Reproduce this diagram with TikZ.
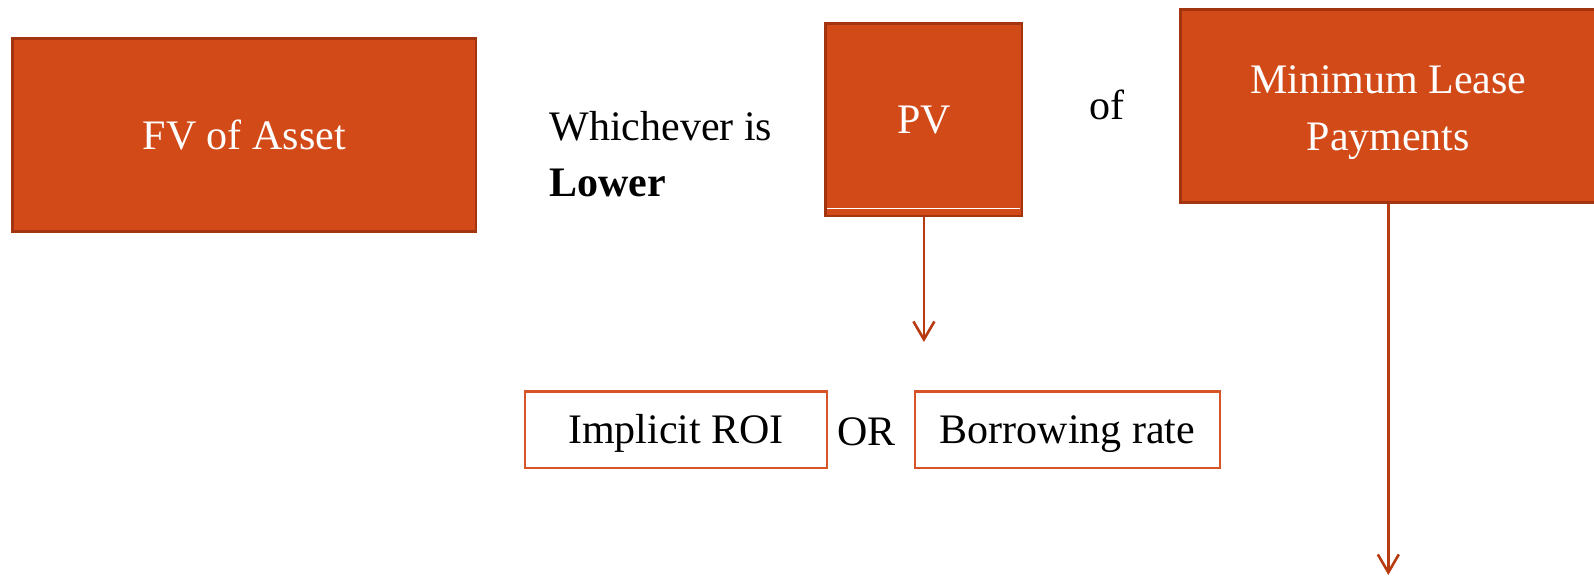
\documentclass[tikz,border=0pt]{standalone}
\usepackage{fontspec}
\setmainfont{Liberation Serif}
\usetikzlibrary{arrows.meta,calc}
\definecolor{boxfill}{RGB}{210,74,24}
\definecolor{boxline}{RGB}{163,52,16}
\definecolor{arrowc}{RGB}{184,58,16}
\definecolor{outlinec}{RGB}{214,84,40}
\begin{document}
\begin{tikzpicture}[x=0.5pt,y=-0.5pt,
  txt/.style={font=\fontsize{21}{28.5}\selectfont, inner sep=0pt},
  solidbox/.style={txt, draw=boxline, line width=1.3pt, fill=boxfill, text=white, align=center},
  whitetxt/.style={txt, text=white, align=center},
  openbox/.style={txt, draw=outlinec, line width=1.3pt, fill=white, text=black, align=center, text height=15.7pt, text depth=2pt},
  arr/.style={draw=arrowc, line width=1.3pt, -{Straight Barb[length=9pt,width=10.5pt]}}
]
\useasboundingbox (0,0) rectangle (1594,576);

\node[solidbox, minimum width=231.9pt, minimum height=96.7pt] (fv) at (244.2,135) {FV of Asset};
\node[solidbox, minimum width=98.2pt, minimum height=96.3pt] (pv) at (923.9,119.7) {PV};
\node[solidbox, minimum width=207.7pt, minimum height=96.7pt] (mlp) at (1388.3,106) {};
\node[whitetxt] (mlptext) at ($(mlp.center)+(0,7)$) {Minimum Lease\\Payments};

\draw[white, line width=0.6pt] ($(pv.south west)+(3,-9)$) -- ($(pv.south east)+(-3,-9)$);

\node[txt, anchor=base west] (which) at (549,141) {Whichever is};
\node[txt, anchor=base west, font=\fontsize{21}{28.5}\selectfont\bfseries] (lower) at (549,197) {Lower};
\node[txt, anchor=base] (of) at (1107,120) {of};

\node[openbox, minimum width=151pt, minimum height=38.2pt] (roi) at (676,430) {Implicit ROI};
\node[txt, anchor=base] (or) at (866.8,446) {OR};
\node[openbox, minimum width=152.5pt, minimum height=38.2pt] (br) at (1067.5,430) {Borrowing rate};

\coordinate (pvend) at (923.9,342);
\coordinate (mlend) at (1388.3,575);
\draw[arr] (pv.south) -- (pvend);
\draw[arr] (mlp.south) -- (mlend);
\end{tikzpicture}
\end{document}
